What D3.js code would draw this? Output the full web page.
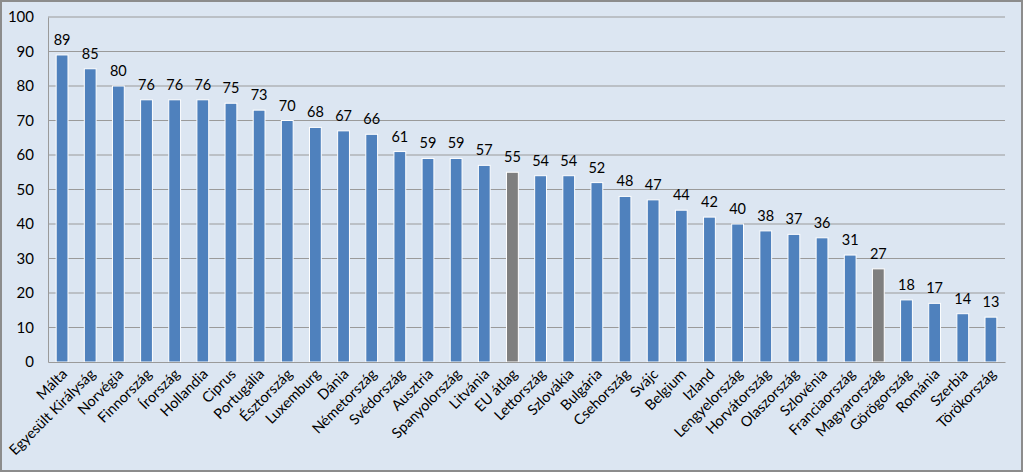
<!DOCTYPE html>
<html><head><meta charset="utf-8">
<script src="https://cdn.jsdelivr.net/npm/d3@7"></script>
<style>
body{margin:0;background:#fff;}
svg{display:block;font-family:Lato,"Open Sans",sans-serif;}
</style></head><body>
<svg id="c" width="1023" height="472"></svg>
<script>
const categories = ["Málta","Egyesült Királyság","Norvégia","Finnország","Írország","Hollandia","Ciprus","Portugália","Észtország","Luxemburg","Dánia","Németország","Svédország","Ausztria","Spanyolország","Litvánia","EU átlag","Lettország","Szlovákia","Bulgária","Csehország","Svájc","Belgium","Izland","Lengyelország","Horvátország","Olaszország","Szlovénia","Franciaország","Magyarország","Görögország","Románia","Szerbia","Törökország"];
const values = [89,85,80,76,76,76,75,73,70,68,67,66,61,59,59,57,55,54,54,52,48,47,44,42,40,38,37,36,31,27,18,17,14,13];
const highlighted = ["EU átlag","Magyarország"];
const yTicks = [0,10,20,30,40,50,60,70,80,90,100];

const svg = d3.select("#c");
const W = 1023, H = 472;
const m = {left:48, right:18, top:17, bottom:110};
svg.append("rect").attr("x",1).attr("y",1).attr("width",W-2).attr("height",H-2)
  .attr("fill","#dce6f2").attr("stroke","#8c8c8c").attr("stroke-width",2);

const x = d3.scaleBand().domain(categories).range([m.left, W-m.right]).paddingInner(0.58).paddingOuter(0.29);
const y = d3.scaleLinear().domain([0,100]).range([H-m.bottom, m.top]);

// gridlines
svg.append("g").selectAll("line").data(yTicks.filter(d=>d>0)).join("line")
  .attr("x1",m.left).attr("x2",W-m.right)
  .attr("y1",d=>y(d)).attr("y2",d=>y(d))
  .attr("stroke","#9a9a9a").attr("stroke-width",1);

// y axis
const ya = svg.append("g").attr("transform",`translate(${m.left},0)`)
  .call(d3.axisLeft(y).tickValues(yTicks).tickSize(0).tickPadding(14));
ya.select(".domain").attr("stroke","#9a9a9a");
ya.selectAll("text").attr("font-size",15).attr("fill","#000").attr("font-family","Lato,'Open Sans',sans-serif");

// bars
svg.append("g").selectAll("rect").data(categories).join("rect")
  .attr("x",d=>x(d)).attr("width",x.bandwidth())
  .attr("y",(d,i)=>y(values[i])).attr("height",(d,i)=>y(0)-y(values[i]))
  .attr("fill",d=>highlighted.includes(d)?"#7f7f7f":"#4f81bd")
  .attr("stroke","#ffffff").attr("stroke-width",1);

// x axis
const xa = svg.append("g").attr("transform",`translate(0,${y(0)})`)
  .call(d3.axisBottom(x).tickSize(0).tickPadding(0));
xa.select(".domain").attr("stroke","#9a9a9a");
xa.selectAll("text")
  .attr("font-size",14.5).attr("fill","#000").attr("font-family","Lato,'Open Sans',sans-serif")
  .attr("text-anchor","end").attr("dy",0)
  .attr("transform","translate(6,13) rotate(-45)");

// value labels
svg.append("g").selectAll("text").data(categories).join("text")
  .attr("x",d=>x(d)+x.bandwidth()/2)
  .attr("y",(d,i)=>y(values[i])-10)
  .attr("text-anchor","middle").attr("font-size",14.5).attr("fill","#000")
  .text((d,i)=>values[i]);
</script>
</body></html>
